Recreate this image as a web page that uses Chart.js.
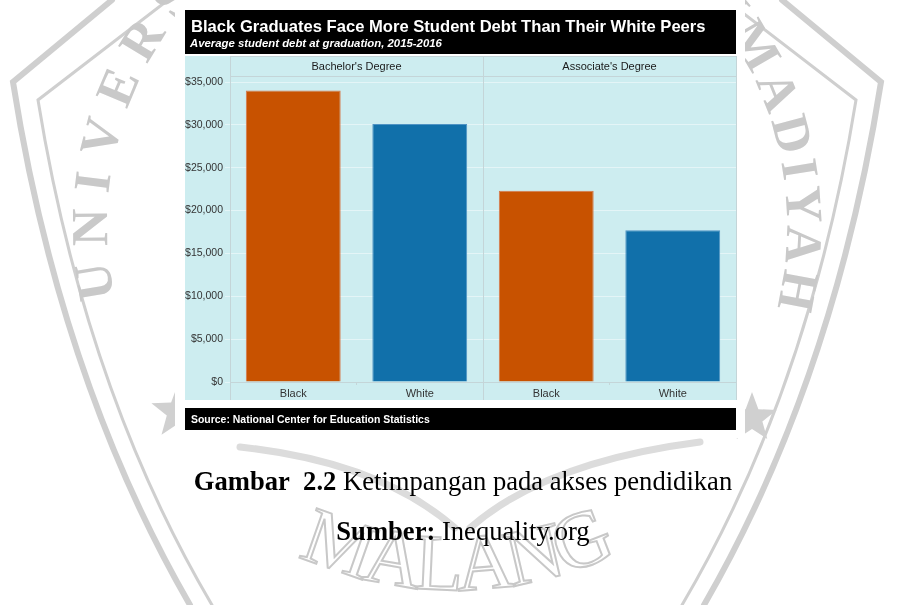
<!DOCTYPE html>
<html>
<head>
<meta charset="utf-8">
<script src="https://cdn.jsdelivr.net/npm/chart.js@4.4.1/dist/chart.umd.min.js"></script>
<style>
  html, body { margin: 0; padding: 0; background: #ffffff; }
  body { width: 899px; height: 605px; position: relative; overflow: hidden; }
  #mark { position: absolute; left: 0; top: 0; }
  #chart { position: absolute; left: 0; top: 0; }
  .caption {
    position: absolute; left: 178px; width: 570px; text-align: center;
    font-family: 'Liberation Serif', 'Times New Roman', serif;
    font-size: 26.6px; line-height: 26.6px; color: #000; white-space: nowrap;
  }
  .caption b { font-weight: bold; }
</style>
</head>
<body>
<svg id="mark" width="899" height="605" xmlns="http://www.w3.org/2000/svg">
  <defs>
    <path id="arcLeft" d="M 114.8 297.4 A 340 340 0 0 1 338.0 -97.0" fill="none"/>
    <path id="arcRight" d="M 536.1 -103.1 A 340 340 0 0 1 776.9 307.3" fill="none"/>
    <path id="arcBottom" d="M 298 555.5 A 375 375 0 0 0 626 548.7" fill="none"/>
  </defs>
  <g fill="none" stroke="#cfcfcf" stroke-linecap="round">
    <path d="M 112 0 L 13 82 Q 60 380 190 605" stroke-width="6"/>
    <path d="M 168 0 L 38 100 Q 85 390 212 605" stroke-width="3"/>
    <path d="M 782 0 L 881 82 Q 834 380 704 605" stroke-width="6"/>
    <path d="M 726 0 L 856 100 Q 809 390 682 605" stroke-width="3"/>
    <path d="M 240 447 Q 380 462 455 528" stroke-width="7" stroke="#dcdcdc"/>
    <path d="M 700 442 Q 545 462 470 528" stroke-width="7" stroke="#dcdcdc"/>
  </g>
  <g id="stars" fill="#d0d0d0"></g>
  <g font-family="'Liberation Serif', 'Times New Roman', serif" font-weight="bold" font-size="52" fill="#c9c9c9">
    <text><textPath href="#arcLeft" textLength="496" lengthAdjust="spacing">UNIVERSITAS</textPath></text>
    <text><textPath href="#arcRight" textLength="527" lengthAdjust="spacing">MUHAMMADIYAH</textPath></text>
  </g>
  <text font-family="'Liberation Serif', 'Times New Roman', serif" font-size="80" fill="none" stroke="#c8c8c8" stroke-width="2">
    <textPath href="#arcBottom" textLength="330" lengthAdjust="spacing">MALANG</textPath>
  </text>
</svg>

<canvas id="chart" width="899" height="605"></canvas>

<div class="caption" style="top: 468px;"><b>Gambar&nbsp; 2.2</b> Ketimpangan pada akses pendidikan</div>
<div class="caption" style="top: 518px;"><b>Sumber:</b> Inequality.org</div>

<script>
// Chart values
const chartTitle = 'Black Graduates Face More Student Debt Than Their White Peers';
const chartSubtitle = 'Average student debt at graduation, 2015-2016';
const chartSource = 'Source: National Center for Education Statistics';
const degrees = ["Bachelor's Degree", "Associate's Degree"];
const categories = ['Black', 'White', 'Black', 'White'];
const debtValues = [34000, 30100, 22300, 17700];
const yTicks = [0, 5000, 10000, 15000, 20000, 25000, 30000, 35000];

const ORANGE = '#c85200';
const BLUE = '#1170aa';
const PANEL = '#cdedf0';
const RULE = '#c4d5d8';
const SANS = "'Liberation Sans', Arial, Helvetica, sans-serif";

Chart.defaults.font.family = SANS;

// little stars of the watermark
function starPoints(cx, cy, r) {
  const pts = [];
  for (let i = 0; i < 10; i++) {
    const a = -Math.PI / 2 + i * Math.PI / 5;
    const rr = i % 2 === 0 ? r : r * 0.42;
    pts.push((cx + rr * Math.cos(a)).toFixed(1) + ',' + (cy + rr * Math.sin(a)).toFixed(1));
  }
  return pts.join(' ');
}
[[178, 412, 28], [752, 418, 26]].forEach(([x, y, r]) => {
  const p = document.createElementNS('http://www.w3.org/2000/svg', 'polygon');
  p.setAttribute('points', starPoints(x, y, r));
  document.getElementById('stars').appendChild(p);
});

function fitSize(ctx, text, weight, width) {
  ctx.font = `${weight} 100px ${SANS}`;
  return 100 * width / ctx.measureText(text).width;
}

// frame: white card, black title / source bars, cyan panel, facet strips
const framePlugin = {
  id: 'frame',
  beforeDraw(chart) {
    const { ctx, chartArea: ca } = chart;
    const left = ca.left - 45;
    ctx.save();
    ctx.fillStyle = '#ffffff';
    ctx.fillRect(175, 0, 570, 438);

    ctx.fillStyle = PANEL;
    ctx.fillRect(left, ca.top - 20, ca.right - left, ca.bottom + 18 - (ca.top - 20));

    ctx.fillStyle = '#000000';
    ctx.fillRect(left, ca.top - 66, ca.right - left, 44);
    ctx.fillRect(left, ca.bottom + 26, ca.right - left, 22);

    ctx.fillStyle = '#ffffff';
    ctx.textAlign = 'left';
    ctx.textBaseline = 'alphabetic';
    let s = fitSize(ctx, chartTitle, 'bold', 515);
    ctx.font = `bold ${s}px ${SANS}`;
    ctx.fillText(chartTitle, left + 6, ca.top - 44);
    s = fitSize(ctx, chartSubtitle, 'italic bold', 252);
    ctx.font = `italic bold ${s}px ${SANS}`;
    ctx.fillText(chartSubtitle, left + 5, ca.top - 29);
    s = fitSize(ctx, chartSource, 'bold', 239);
    ctx.font = `bold ${s}px ${SANS}`;
    ctx.fillText(chartSource, left + 6, ca.bottom + 40.5);
    ctx.restore();
  },
  afterDraw(chart) {
    const { ctx, chartArea: ca, scales: { x } } = chart;
    const mid = (x.getPixelForValue(1) + x.getPixelForValue(2)) / 2;
    const top = ca.top - 20;
    const bottom = ca.bottom + 18;
    ctx.save();
    ctx.strokeStyle = RULE;
    ctx.lineWidth = 1;
    ctx.beginPath();
    [ca.left, mid, ca.right].forEach(px => {
      const p = Math.round(px) + 0.5;
      ctx.moveTo(p, top);
      ctx.lineTo(p, bottom);
    });
    ctx.moveTo(ca.left, Math.round(ca.top) + 0.5);
    ctx.lineTo(ca.right, Math.round(ca.top) + 0.5);
    ctx.moveTo(ca.left, top + 0.5);
    ctx.lineTo(ca.right, top + 0.5);
    ctx.stroke();

    ctx.fillStyle = '#1a1a1a';
    ctx.font = `11px ${SANS}`;
    ctx.textAlign = 'center';
    ctx.textBaseline = 'middle';
    degrees.forEach((d, i) => {
      const cx = (x.getPixelForValue(i * 2) + x.getPixelForValue(i * 2 + 1)) / 2;
      ctx.fillText(d, cx, top + 10.5);
    });
    ctx.restore();
  },
};

new Chart(document.getElementById('chart'), {
  type: 'bar',
  data: {
    labels: categories,
    datasets: [
      {
        data: debtValues,
        backgroundColor: [ORANGE, BLUE, ORANGE, BLUE],
        borderColor: ['#d7784a', '#4f93c4', '#d7784a', '#4f93c4'],
        borderWidth: 1,
        categoryPercentage: 1,
        barPercentage: 0.75,
      },
    ],
  },
  options: {
    responsive: false,
    animation: false,
    devicePixelRatio: 1,
    layout: { padding: { left: 180, right: 163, top: 76, bottom: 205 } },
    plugins: {
      legend: { display: false },
      tooltip: { enabled: false },
    },
    scales: {
      x: {
        offset: true,
        grid: { offset: true, drawOnChartArea: false, tickLength: 3, color: RULE },
        border: { display: true, color: RULE },
        ticks: { color: '#333333', font: { size: 11 }, padding: 2 },
        afterFit(scale) { scale.height = 18; },
      },
      y: {
        min: 0,
        max: 35700,
        afterBuildTicks(scale) { scale.ticks = yTicks.map(v => ({ value: v })); },
        grid: { color: '#e4f5f7', tickLength: 5, tickColor: '#e4f5f7' },
        border: { display: false },
        ticks: {
          color: '#333333',
          font: { size: 10.5 },
          padding: 2,
          callback: v => '$' + v.toLocaleString('en-US'),
        },
        afterFit(scale) { scale.width = 50; },
      },
    },
  },
  plugins: [framePlugin],
});
</script>
</body>
</html>
